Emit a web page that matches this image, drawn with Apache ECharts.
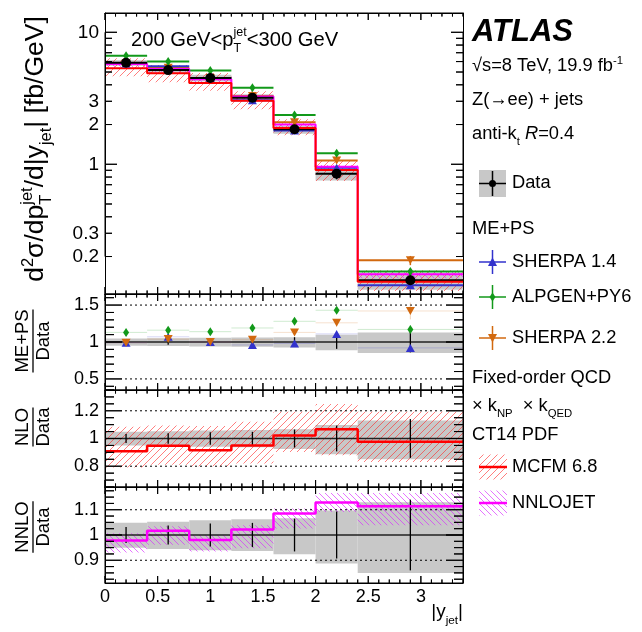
<!DOCTYPE html>
<html><head><meta charset="utf-8">
<script src="https://cdn.jsdelivr.net/npm/echarts@6/dist/echarts.min.js"></script>
<style>html,body{margin:0;padding:0;background:#fff}#c{width:642px;height:632px}</style>
</head><body><div id="c"></div>
<script>
// ---------------- data ----------------
const binEdges   = [0, 0.4, 0.8, 1.2, 1.6, 2.0, 2.4, 3.4];
const binCenters = [0.2, 0.6, 1.0, 1.4, 1.8, 2.2, 2.9];
// top panel cross sections [fb/GeV]
const dataXsec     = [5.87, 5.17, 4.50, 3.19, 1.84, 0.848, 0.132];
const sherpa14Xsec = [5.81, 5.53, 4.50, 3.06, 1.80, 0.94, 0.121];
const alpgenXsec   = [6.63, 6.00, 5.13, 3.80, 2.36, 1.21, 0.154];
const sherpa22Xsec = [5.81, 5.38, 4.50, 3.29, 2.08, 1.07, 0.187];
const mcfmXsec     = [5.33, 4.90, 4.12, 3.03, 1.88, 0.905, 0.129];
const nnlojetXsec  = [5.74, 5.26, 4.41, 3.26, 2.00, 0.957, 0.147];
// data uncertainties (relative)
const dataStatRel = [0.032, 0.038, 0.046, 0.048, 0.065, 0.093, 0.14];
const dataBandLo  = [0.950, 0.945, 0.940, 0.937, 0.924, 0.887, 0.850];
const dataBandHi  = [1.048, 1.052, 1.058, 1.062, 1.066, 1.097, 1.130];
// ME+PS / Data
const sherpa14Ratio = [0.99, 1.07, 1.00, 0.96, 0.98, 1.11, 0.92];
const alpgenRatio   = [1.13, 1.16, 1.14, 1.19, 1.28, 1.43, 1.17];
const sherpa22Ratio = [0.99, 1.04, 1.00, 1.03, 1.13, 1.26, 1.42];
const sherpa14ErrRel = [0.01, 0.01, 0.015, 0.02, 0.03, 0.04, 0.06];
const alpgenErrRel   = [0.01, 0.01, 0.01, 0.015, 0.02, 0.03, 0.05];
const sherpa22ErrRel = [0.01, 0.01, 0.015, 0.02, 0.03, 0.04, 0.08];
// NLO / Data
const mcfmRatio  = [0.908, 0.947, 0.915, 0.949, 1.022, 1.067, 0.976];
const mcfmBandLo = [0.790, 0.810, 0.800, 0.820, 0.903, 0.879, 0.830];
const mcfmBandHi = [1.084, 1.094, 1.090, 1.120, 1.193, 1.249, 1.193];
// NNLO / Data
const nnlojetRatio  = [0.978, 1.017, 0.980, 1.022, 1.085, 1.129, 1.114];
const nnlojetBandLo = [0.931, 0.961, 0.935, 0.948, 1.026, 1.091, 1.039];
const nnlojetBandHi = [1.007, 1.035, 1.000, 1.039, 1.105, 1.166, 1.166];
// ticks / labels
const xTickLabels = [0, 0.5, 1, 1.5, 2, 2.5, 3];
const topYLabels  = [0.2, 0.3, 1, 2, 3, 10];
const topYMajor   = [1, 10];
const ratio1Labels = [0.5, 1, 1.5];
const ratio2Labels = [0.8, 1, 1.2];
const ratio3Labels = [0.9, 1, 1.1];
const ratio1Guides = [0.5, 1.5];
const ratio2Guides = [0.8, 1.2];
const ratio3Guides = [0.9, 1.1];
const guideSpan = [0.19, 3.22];

// ---------------- helpers ----------------
const FONT = '"Liberation Sans", Arial, Helvetica, sans-serif';
const C_GREEN = '#12991a', C_BLUE = '#3232cc', C_ORANGE = '#d2690f', C_MAG = '#ff00ff', C_RED = '#ff0000', C_GRAY = '#c8c8c8';
const mctx = document.createElement('canvas').getContext('2d');
function tw(t, fs, st) { mctx.font = (st || '') + ' ' + fs + 'px ' + FONT; return mctx.measureText(t).width; }
function range(a, b, s) { const r = []; const n = Math.round((b - a) / s); for (let k = 0; k <= n; k++) r.push(+(a + k * s).toFixed(4)); return r; }

function hatch(color, dir, n) {
  const c = document.createElement('canvas'); c.width = n; c.height = n;
  const g = c.getContext('2d'); g.strokeStyle = color; g.lineWidth = 1;
  g.beginPath();
  if (dir > 0) { g.moveTo(0, n); g.lineTo(n, 0); g.moveTo(-1, 1); g.lineTo(1, -1); g.moveTo(n - 1, n + 1); g.lineTo(n + 1, n - 1); }
  else { g.moveTo(0, 0); g.lineTo(n, n); g.moveTo(n - 1, -1); g.lineTo(n + 1, 1); g.moveTo(-1, n - 1); g.lineTo(1, n + 1); }
  g.stroke();
  return { image: c, repeat: 'repeat' };
}
const redHatch = hatch('rgba(255,40,40,0.6)', 1, 7);
const magHatch = hatch('rgba(215,40,255,0.65)', -1, 6);

function axIdx(g) { return { xAxisIndex: g * 2, yAxisIndex: g * 2 }; }
function rects(g, lo, hi, fill, z) {
  return Object.assign({ type: 'custom', z, silent: true, encode: { x: [0, 1], y: [2, 3] },
    data: lo.map((v, i) => [binEdges[i], binEdges[i + 1], v, hi[i]]),
    renderItem(p, api) {
      const a = api.coord([api.value(0), api.value(3)]);
      const b = api.coord([api.value(1), api.value(2)]);
      return { type: 'rect', shape: { x: a[0], y: a[1], width: b[0] - a[0], height: b[1] - a[1] }, style: { fill: fill, stroke: null } };
    } }, axIdx(g));
}
function hlines(g, vals, color, width, z, opacity) {
  return Object.assign({ type: 'custom', z, silent: true, encode: { x: [0, 1], y: 2 },
    data: vals.map((v, i) => [binEdges[i], binEdges[i + 1], v]),
    renderItem(p, api) {
      const a = api.coord([api.value(0), api.value(2)]);
      const b = api.coord([api.value(1), api.value(2)]);
      return { type: 'line', shape: { x1: a[0], y1: a[1], x2: b[0], y2: b[1] }, style: { stroke: color, lineWidth: width, opacity: opacity == null ? 1 : opacity } };
    } }, axIdx(g));
}
function vbars(g, lo, hi, color, width, z, opacity) {
  return Object.assign({ type: 'custom', z, silent: true, encode: { x: 0, y: [1, 2] },
    data: lo.map((v, i) => [binCenters[i], v, hi[i]]),
    renderItem(p, api) {
      const a = api.coord([api.value(0), api.value(1)]);
      const b = api.coord([api.value(0), api.value(2)]);
      return { type: 'line', shape: { x1: a[0], y1: a[1], x2: b[0], y2: b[1] }, style: { stroke: color, lineWidth: width, opacity: opacity == null ? 1 : opacity } };
    } }, axIdx(g));
}
function stepLine(g, vals, color, width, z) {
  const d = vals.map((v, i) => [binEdges[i], v]);
  d.push([binEdges[binEdges.length - 1], vals[vals.length - 1]]);
  return Object.assign({ type: 'line', data: d, step: 'end', symbol: 'none', silent: true, z,
    lineStyle: { color, width } }, axIdx(g));
}
function marks(g, vals, symbol, size, color, z, rot) {
  return Object.assign({ type: 'scatter', data: vals.map((v, i) => [binCenters[i], v]), symbol, symbolSize: size,
    symbolRotate: rot || 0, itemStyle: { color, opacity: 1 }, z, silent: true }, axIdx(g));
}
function refLine(g, y, dotted, z) {
  const span = dotted ? guideSpan : [binEdges[0], binEdges[binEdges.length - 1]];
  return Object.assign({ type: 'line', data: [[span[0], y], [span[1], y]], symbol: 'none', silent: true, z,
    lineStyle: dotted ? { color: '#000', width: 1, type: [2, 3] } : { color: '#222', width: 1.5 } }, axIdx(g));
}
const mul = (a, b) => a.map((v, i) => v * b[i]);
const relLo = (v, e) => v.map((x, i) => x * (1 - e[i]));
const relHi = (v, e) => v.map((x, i) => x * (1 + e[i]));

// ---------------- axes ----------------
const X_MIN = 0, X_MAX = 3.4;
const CHART_W = 642;
const grids = [
  { left: 105, right: 179, top: 13, height: 281 },
  { left: 105, right: 179, top: 294, height: 96 },
  { left: 105, right: 179, top: 390, height: 97 },
  { left: 105, right: 179, top: 487, height: 96 }
];
const xMinor = range(0, 3.4, 0.1);
const labelStyle = { fontSize: 18, fontFamily: FONT, color: '#000' };
const fmt = v => String(parseFloat((+v).toPrecision(4)));
const yDefs = [
  { type: 'log', min: 0.104, max: 14, major: topYMajor, minor: range(0.2, 0.9, 0.1).concat(range(2, 9, 1)), labels: topYLabels, ml: 12, nl: 7, fs: 19 },
  { type: 'value', min: 0.35, max: 1.65, major: ratio1Labels, minor: range(0.4, 1.6, 0.1), labels: ratio1Labels, ml: 17, nl: 9, fs: 18 },
  { type: 'value', min: 0.65, max: 1.35, major: ratio2Labels, minor: range(0.65, 1.35, 0.05), labels: ratio2Labels, ml: 17, nl: 9, fs: 18 },
  { type: 'value', min: 0.81, max: 1.19, major: ratio3Labels, minor: range(0.825, 1.175, 0.025), labels: ratio3Labels, ml: 17, nl: 9, fs: 18 }
];
const xAxes = [], yAxes = [];
yDefs.forEach((d, g) => {
  ['bottom', 'top'].forEach(pos => {
    xAxes.push({ gridIndex: g, type: 'value', min: X_MIN, max: X_MAX, position: pos, z: 40,
      axisLine: { show: true, onZero: false, lineStyle: { color: '#000', width: 1 } },
      axisTick: { show: false },
      axisLabel: Object.assign({ show: pos === 'bottom' && g === 3, customValues: xTickLabels, margin: 5, formatter: fmt }, labelStyle),
      splitLine: { show: false } });
  });
  ['left', 'right'].forEach(pos => {
    const ax = { gridIndex: g, type: d.type, min: d.min, max: d.max, position: pos, z: 40,
      axisLine: { show: true, onZero: false, lineStyle: { color: '#000', width: 1 } },
      axisTick: { show: false },
      axisLabel: Object.assign({ show: pos === 'left', customValues: d.labels, margin: 6, formatter: fmt }, labelStyle, { fontSize: d.fs }),
      splitLine: { show: false } };
    if (d.type === 'log') ax.logBase = 10;
    yAxes.push(ax);
  });
});

// tick marks drawn as "comb" polylines along each frame side (inside ticks, all four sides);
// tick lengths in pixels are converted to data units from the grid's pixel size.
function comb(g, pts) {
  return Object.assign({ type: 'line', data: pts, symbol: 'none', silent: true, clip: false, z: 45,
    lineStyle: { color: '#000', width: 1 } }, axIdx(g));
}
function tickCombs(g, d) {
  const H = grids[g].height, W = CHART_W - grids[g].left - grids[g].right;
  const yOff = (y0, px) => d.type === 'log' ? y0 * Math.pow(d.max / d.min, px / H) : y0 + px * (d.max - d.min) / H;
  const xOff = (x0, px) => x0 + px * (X_MAX - X_MIN) / W;
  const isMajorX = v => xTickLabels.some(t => Math.abs(t - v) < 1e-6);
  const isMajorY = v => d.major.some(t => Math.abs(t - v) < 1e-6);
  const yvals = d.minor.concat(d.major).filter((v, i, a) => a.findIndex(u => Math.abs(u - v) < 1e-6) === i).sort((a, b) => a - b);
  const bottom = [], top = [], left = [], right = [];
  xMinor.forEach(v => {
    const L = isMajorX(v) ? 7 : 3.5;
    bottom.push([v, d.min], [v, yOff(d.min, L)], [v, d.min]);
    top.push([v, d.max], [v, yOff(d.max, -L)], [v, d.max]);
  });
  yvals.forEach(v => {
    const L = isMajorY(v) ? d.ml : d.nl;
    left.push([X_MIN, v], [xOff(X_MIN, L), v], [X_MIN, v]);
    right.push([X_MAX, v], [xOff(X_MAX, -L), v], [X_MAX, v]);
  });
  return [comb(g, bottom), comb(g, top), comb(g, left), comb(g, right)];
}

// ---------------- series ----------------
const series = [];
// top panel
series.push(rects(0, mul(dataXsec, dataBandLo), mul(dataXsec, dataBandHi), C_GRAY, 1));
series.push(rects(0, mul(dataXsec, mcfmBandLo), mul(dataXsec, mcfmBandHi), redHatch, 2));
series.push(rects(0, mul(dataXsec, nnlojetBandLo), mul(dataXsec, nnlojetBandHi), magHatch, 3));
series.push(hlines(0, sherpa22Xsec, C_ORANGE, 2, 4));
series.push(hlines(0, alpgenXsec, C_GREEN, 2, 4));
series.push(hlines(0, sherpa14Xsec, C_BLUE, 2, 4));
series.push(stepLine(0, nnlojetXsec, C_MAG, 2, 5));
series.push(hlines(0, dataXsec, '#000', 2, 6));
series.push(stepLine(0, mcfmXsec, C_RED, 2, 7));
series.push(vbars(0, relLo(alpgenXsec, alpgenErrRel), relHi(alpgenXsec, alpgenErrRel), C_GREEN, 1.5, 8));
series.push(vbars(0, relLo(sherpa22Xsec, sherpa22ErrRel), relHi(sherpa22Xsec, sherpa22ErrRel), C_ORANGE, 1.5, 8));
series.push(vbars(0, relLo(sherpa14Xsec, sherpa14ErrRel), relHi(sherpa14Xsec, sherpa14ErrRel), C_BLUE, 1.5, 8));
series.push(vbars(0, relLo(dataXsec, dataStatRel), relHi(dataXsec, dataStatRel), '#000', 1.5, 8));
series.push(marks(0, sherpa14Xsec, 'triangle', [9, 8], C_BLUE, 9));
series.push(marks(0, sherpa22Xsec, 'triangle', [9, 8], C_ORANGE, 9, 180));
series.push(marks(0, alpgenXsec, 'diamond', [6, 9], C_GREEN, 9));
series.push(marks(0, dataXsec, 'circle', 10, '#000', 10));
// ME+PS / Data
const ones = dataXsec.map(() => 1);
series.push(rects(1, dataBandLo, dataBandHi, C_GRAY, 1));
series.push(refLine(1, 1, false, 2));
ratio1Guides.forEach(v => series.push(refLine(1, v, true, 2)));
series.push(hlines(1, alpgenRatio, C_GREEN, 1, 3, 0.2));
series.push(hlines(1, sherpa22Ratio, C_ORANGE, 1, 3, 0.2));
series.push(hlines(1, sherpa14Ratio, C_BLUE, 1, 3, 0.2));
series.push(vbars(1, relLo(alpgenRatio, alpgenErrRel), relHi(alpgenRatio, alpgenErrRel), C_GREEN, 1, 3, 0.3));
series.push(vbars(1, relLo(sherpa22Ratio, sherpa22ErrRel), relHi(sherpa22Ratio, sherpa22ErrRel), C_ORANGE, 1, 3, 0.3));
series.push(vbars(1, relLo(ones, dataStatRel), relHi(ones, dataStatRel), '#000', 1.3, 4));
series.push(marks(1, sherpa14Ratio, 'triangle', [9, 8], C_BLUE, 5));
series.push(marks(1, sherpa22Ratio, 'triangle', [9, 8], C_ORANGE, 6, 180));
series.push(marks(1, alpgenRatio, 'diamond', [6, 9], C_GREEN, 6));
// NLO / Data
series.push(rects(2, dataBandLo, dataBandHi, C_GRAY, 1));
series.push(rects(2, mcfmBandLo, mcfmBandHi, redHatch, 2));
ratio2Guides.forEach(v => series.push(refLine(2, v, true, 3)));
series.push(refLine(2, 1, false, 3));
series.push(vbars(2, relLo(ones, dataStatRel), relHi(ones, dataStatRel), '#000', 1.3, 4));
series.push(stepLine(2, mcfmRatio, C_RED, 2.5, 5));
// NNLO / Data
series.push(rects(3, dataBandLo, dataBandHi, C_GRAY, 1));
series.push(rects(3, nnlojetBandLo, nnlojetBandHi, magHatch, 2));
ratio3Guides.forEach(v => series.push(refLine(3, v, true, 3)));
series.push(refLine(3, 1, false, 3));
series.push(vbars(3, relLo(ones, dataStatRel), relHi(ones, dataStatRel), '#000', 1.3, 4));
series.push(stepLine(3, nnlojetRatio, C_MAG, 2.5, 5));
// ticks
yDefs.forEach((d, g) => { tickCombs(g, d).forEach(s => series.push(s)); });

// ---------------- texts / legend ----------------
const G = [];
function measureSegs(segs, fs) {
  let cx = 0, prev = 0;
  segs.forEach(s => {
    const f = s.fs ? s.fs * fs : fs; const sx = s.stack ? prev : cx;
    const w = tw(s.t, f, s.st || ''); if (!s.stack) prev = cx; cx = Math.max(cx, sx + w);
  });
  return cx;
}
function compose(segs, fs, x, y, align, rotation) {
  const ch = []; let cx = 0, prev = 0;
  segs.forEach(s => {
    const f = s.fs ? s.fs * fs : fs, st = s.st || '';
    const sx = s.stack ? prev : cx;
    const w = tw(s.t, f, st);
    const midY = 0.35 * fs + (s.shift || 0) * fs - 0.35 * f;
    ch.push({ type: 'text', x: sx, y: midY, style: { text: s.t, font: st + ' ' + f + 'px ' + FONT, fill: s.color || '#000', align: 'left', verticalAlign: 'middle' } });
    if (!s.stack) prev = cx;
    cx = Math.max(cx, sx + w);
  });
  const off = align === 'center' ? -cx / 2 : align === 'right' ? -cx : 0;
  ch.forEach(c => { c.x += off; });
  G.push({ type: 'group', x, y, rotation: rotation || 0, children: ch, z: 100 });
  return cx;
}
const SUB = 0.62;
// y title (top panel), sized to span the panel as in the reference
const yTitleSegs = [{ t: 'd' }, { t: '2', fs: SUB, shift: -0.42 }, { t: 'σ/dp' }, { t: 'T', fs: SUB, shift: 0.28 }, { t: 'jet', fs: SUB, shift: -0.45, stack: true },
  { t: '/d|y' }, { t: 'jet', fs: SUB, shift: 0.28 }, { t: '| [fb/GeV]' }];
const yTitleFs = 265 / measureSegs(yTitleSegs, 1);
compose(yTitleSegs, yTitleFs, 36, 149, 'center', Math.PI / 2);
// pT range
const ptSegs = [{ t: '200 GeV<p' }, { t: 'T', fs: SUB, shift: 0.3 }, { t: 'jet', fs: SUB, shift: -0.5, stack: true }, { t: '<300 GeV' }];
compose(ptSegs, 207 / measureSegs(ptSegs, 1), 131, 40, 'left');
// x title
compose([{ t: '|y' }, { t: 'jet', fs: SUB, shift: 0.32 }, { t: '|' }], 19, 463, 612, 'right');
// ratio titles
function fraction(cx, cy, num, den, fs) {
  const w = Math.max(tw(num, fs), tw(den, fs));
  const font = fs + 'px ' + FONT;
  G.push({ type: 'group', x: cx, y: cy, rotation: Math.PI / 2, z: 100, children: [
    { type: 'text', x: 0, y: -fs * 0.52, style: { text: num, font, fill: '#000', align: 'center', verticalAlign: 'middle' } },
    { type: 'line', shape: { x1: -w / 2, y1: 0, x2: w / 2, y2: 0 }, style: { stroke: '#000', lineWidth: 1.3 } },
    { type: 'text', x: 0, y: fs * 0.58, style: { text: den, font, fill: '#000', align: 'center', verticalAlign: 'middle' } }
  ] });
}
fraction(33, 341, 'ME+PS', 'Data', 18.5);
fraction(33, 427, 'NLO', 'Data', 18.5);
fraction(33, 527, 'NNLO', 'Data', 18.5);
// right-hand labels
const LX = 472, TX = 512, LF = 18.3;
G.push({ type: 'text', x: LX, y: 32, z: 100, style: { text: 'ATLAS', font: 'italic bold 31px ' + FONT, fill: '#000', align: 'left', verticalAlign: 'middle' } });
compose([{ t: '√s=8 TeV, 19.9 fb' }, { t: '-1', fs: SUB, shift: -0.42 }], LF, LX, 66, 'left');
compose([{ t: 'Z(→ee) + jets' }], LF, LX, 100, 'left');
compose([{ t: 'anti-k' }, { t: 't', fs: SUB, shift: 0.3 }, { t: ' ' }, { t: 'R', st: 'italic' }, { t: '=0.4' }], LF, LX, 134, 'left');
compose([{ t: 'Data' }], LF, TX, 183, 'left');
compose([{ t: 'ME+PS' }], LF, LX, 229, 'left');
compose([{ t: 'SHERPA 1.4' }], LF, TX, 262, 'left');
compose([{ t: 'ALPGEN+PY6' }], LF, TX, 297, 'left');
compose([{ t: 'SHERPA 2.2' }], LF, TX, 338, 'left');
compose([{ t: 'Fixed-order QCD' }], LF, LX, 378, 'left');
compose([{ t: '× k' }, { t: 'NP', fs: SUB, shift: 0.3 }, { t: '  × k' }, { t: 'QED', fs: SUB, shift: 0.3 }], LF, LX, 406, 'left');
compose([{ t: 'CT14 PDF' }], LF, LX, 435, 'left');
compose([{ t: 'MCFM 6.8' }], LF, TX, 467, 'left');
compose([{ t: 'NNLOJET' }], LF, TX, 503, 'left');
// legend symbols
const SX0 = 479, SX1 = 506, SXC = 492.5;
G.push({ type: 'rect', z: 99, shape: { x: SX0, y: 170, width: SX1 - SX0, height: 27 }, style: { fill: C_GRAY } });
G.push({ type: 'line', z: 100, shape: { x1: SX0, y1: 183.5, x2: SX1, y2: 183.5 }, style: { stroke: '#000', lineWidth: 1.5 } });
G.push({ type: 'line', z: 100, shape: { x1: SXC, y1: 171, x2: SXC, y2: 196 }, style: { stroke: '#000', lineWidth: 1.5 } });
G.push({ type: 'circle', z: 101, shape: { cx: SXC, cy: 183.5, r: 3.5 }, style: { fill: '#000' } });
function mcLegend(y, color, kind) {
  G.push({ type: 'line', z: 100, shape: { x1: SX0, y1: y, x2: SX1, y2: y }, style: { stroke: color, lineWidth: 1.5 } });
  G.push({ type: 'line', z: 100, shape: { x1: SXC, y1: y - 12, x2: SXC, y2: y + 12 }, style: { stroke: color, lineWidth: 1.5 } });
  let pts;
  if (kind === 'up') pts = [[SXC - 4.5, y + 4], [SXC + 4.5, y + 4], [SXC, y - 4.5]];
  else if (kind === 'down') pts = [[SXC - 4.5, y - 4], [SXC + 4.5, y - 4], [SXC, y + 4.5]];
  else pts = [[SXC, y - 4.5], [SXC + 3, y], [SXC, y + 4.5], [SXC - 3, y]];
  G.push({ type: 'polygon', z: 101, shape: { points: pts }, style: { fill: color } });
}
mcLegend(262, C_BLUE, 'up');
mcLegend(297, C_GREEN, 'diamond');
mcLegend(338, C_ORANGE, 'down');
function hatchLegend(y, pat, color) {
  G.push({ type: 'rect', z: 99, shape: { x: SX0, y: y - 12.5, width: SX1 - SX0 + 1, height: 25 }, style: { fill: pat } });
  G.push({ type: 'line', z: 100, shape: { x1: SX0, y1: y, x2: SX1 + 1, y2: y }, style: { stroke: color, lineWidth: 2.5 } });
}
hatchLegend(467, redHatch, C_RED);
hatchLegend(503, magHatch, C_MAG);

const chart = echarts.init(document.getElementById('c'), null, { renderer: 'canvas' });
chart.setOption({ animation: false, backgroundColor: '#fff', grid: grids, xAxis: xAxes, yAxis: yAxes, series, graphic: { elements: G } });
</script></body></html>
